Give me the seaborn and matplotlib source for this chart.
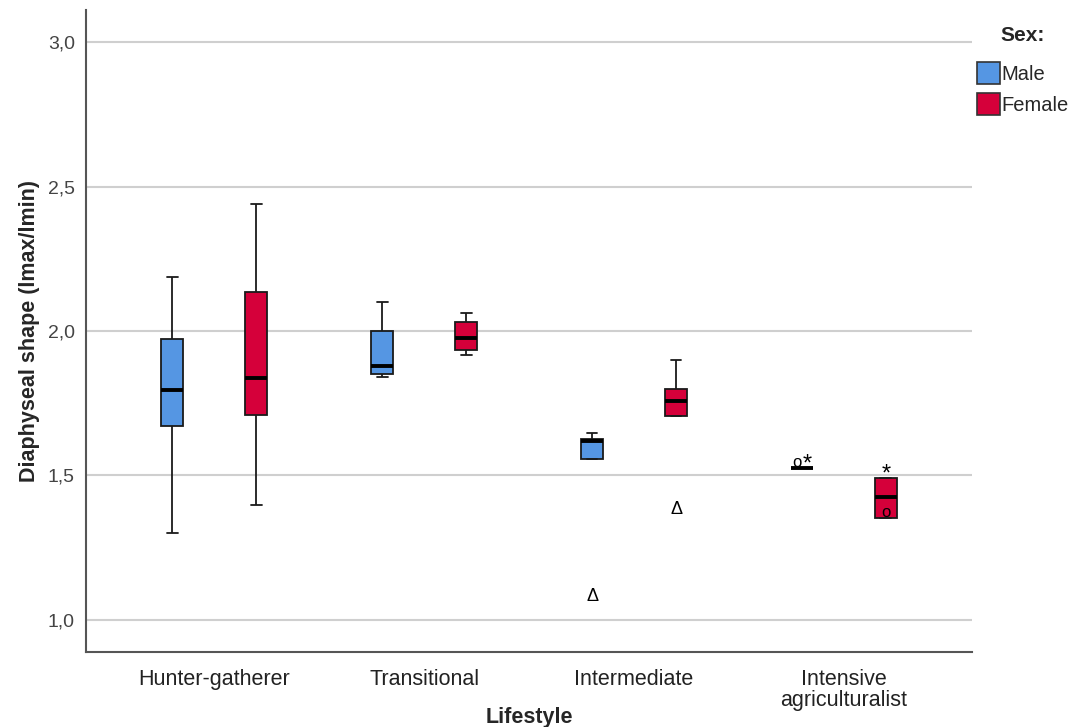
import numpy as np
import pandas as pd
import seaborn as sns
import matplotlib.pyplot as plt
from matplotlib.patches import Patch
from matplotlib.ticker import FuncFormatter

# Five-number summaries per group: lower whisker, Q1, median, Q3, upper whisker
lifestyles = ["Hunter-gatherer", "Transitional", "Intermediate", "Intensive\nagriculturalist"]
sexes = ["Male", "Female"]

male_lo = [1.301, 1.841, 1.557, 1.525]
male_q1 = [1.671, 1.851, 1.557, 1.525]
male_med = [1.796, 1.879, 1.620, 1.526]
male_q3 = [1.972, 2.000, 1.626, 1.527]
male_hi = [2.187, 2.100, 1.647, 1.527]

female_lo = [1.398, 1.917, 1.706, 1.353]
female_q1 = [1.709, 1.934, 1.706, 1.353]
female_med = [1.837, 1.976, 1.758, 1.426]
female_q3 = [2.135, 2.031, 1.799, 1.491]
female_hi = [2.439, 2.062, 1.900, 1.491]

# Points drawn outside the boxes (outliers "o"/"Δ", extremes "*")
out_lifestyle = [2, 2, 3, 3, 3, 3]
out_sex = ["Male", "Female", "Male", "Male", "Female", "Female"]
out_value = [1.080, 1.381, 1.546, 1.546, 1.512, 1.372]
out_symbol = ["Δ", "Δ", "o", "*", "*", "o"]
out_shift = [0.0, 0.0, -0.025, 0.025, 0.0, 0.0]

palette = {"Male": "#5596E3", "Female": "#D5003A"}

rows = []
for sex, stats in (("Male", (male_lo, male_q1, male_med, male_q3, male_hi)),
                   ("Female", (female_lo, female_q1, female_med, female_q3, female_hi))):
    for i, name in enumerate(lifestyles):
        for v in (stats[0][i], stats[1][i], stats[2][i], stats[3][i], stats[4][i]):
            rows.append({"Lifestyle": name, "Sex": sex, "value": v})
df = pd.DataFrame(rows)

sns.set_theme(style="white")
plt.rcParams["font.family"] = ["Liberation Sans", "DejaVu Sans"]

fig = plt.figure(figsize=(10.81, 7.27), dpi=100)
ax = fig.add_axes([0.0796, 0.1032, 0.8196, 0.8828])

ax.grid(axis="y", color="#cfcfcf", linewidth=1.5, zorder=0)
ax.set_axisbelow(True)

sns.boxplot(data=df, x="Lifestyle", y="value", hue="Sex", order=lifestyles,
            hue_order=sexes, palette=palette, whis=np.inf, width=0.8, gap=0.74,
            linecolor="#1a1a1a", linewidth=1.3, saturation=1,
            medianprops={"linewidth": 2.8, "color": "black"},
            legend=False, ax=ax)

dodge = {"Male": -0.2, "Female": 0.2}
sym_size = {"Δ": 13, "o": 12, "*": 17}
sym_dy = {"Δ": 0.0, "o": 0.0, "*": -0.008}
for li, sx, val, sym, sh in zip(out_lifestyle, out_sex, out_value, out_symbol, out_shift):
    ax.text(li + dodge[sx] + sh, val + sym_dy[sym], sym, ha="center", va="center",
            fontsize=sym_size[sym], color="black", zorder=5)

ax.set_xlim(-0.61, 3.61)
ax.set_ylim(0.889, 3.111)
ax.set_yticks([1.0, 1.5, 2.0, 2.5, 3.0])
ax.yaxis.set_major_formatter(FuncFormatter(lambda v, p: f"{v:.1f}".replace(".", ",")))
ax.tick_params(axis="y", labelsize=14, labelcolor="#444444", length=0, pad=8)
ax.tick_params(axis="x", labelsize=15.5, labelcolor="#222222", length=0, pad=12)
for lbl in ax.get_xticklabels():
    lbl.set_linespacing(1.05)

for side in ("top", "right"):
    ax.spines[side].set_visible(False)
for side in ("left", "bottom"):
    ax.spines[side].set_color("#555555")
    ax.spines[side].set_linewidth(1.5)

ax.set_xlabel("Lifestyle", fontsize=15.5, fontweight="bold")
ax.xaxis.set_label_coords(0.5, -0.086)
ax.set_ylabel("Diaphyseal shape (lmax/lmin)", fontsize=15.5, fontweight="bold", labelpad=6)

handles = [Patch(facecolor=palette[s], edgecolor="#333333", linewidth=1.2, label=s) for s in sexes]
leg = ax.legend(handles=handles, title="Sex:", loc="upper left",
                bbox_to_anchor=(0.99, 0.997), frameon=False, fontsize=14.5,
                handlelength=1.15, handleheight=1.3, handletextpad=0.05,
                labelspacing=0.45, borderaxespad=0.3)
leg.get_title().set_fontweight("bold")
leg.get_title().set_fontsize(15)
leg._legend_box.align = "center"
leg._legend_box.sep = 12

fig.savefig("out.png", dpi=100)
